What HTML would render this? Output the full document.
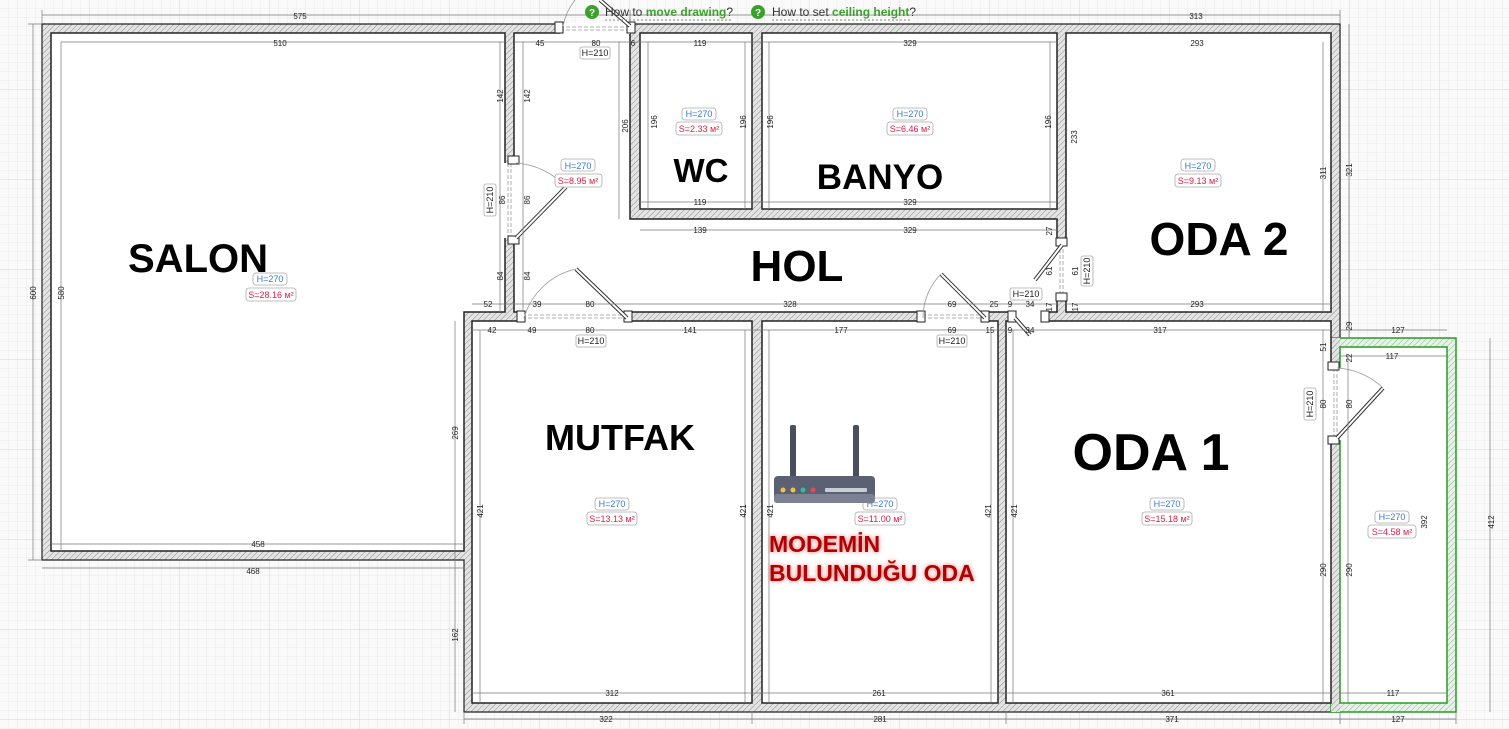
<!DOCTYPE html>
<html><head><meta charset="utf-8"><style>
html,body{margin:0;padding:0;background:#fafafa;}
svg{display:block;font-family:"Liberation Sans",sans-serif;}
.d{font-size:8px;fill:#222;text-anchor:middle;}
.dl{stroke:#777;stroke-width:0.7;fill:none}
.big{font-weight:bold;fill:#000;text-anchor:middle}
.hb{fill:#fff;stroke:#aaa;stroke-width:0.8}
.h{font-size:9px;fill:#3a7bd5;text-anchor:middle}
.s{font-size:9px;fill:#e0204a;text-anchor:middle}
.k{font-size:9px;fill:#222;text-anchor:middle}
</style></head><body>
<svg width="1509" height="729" viewBox="0 0 1509 729">
<defs>
<pattern id="g1" width="9" height="9" patternUnits="userSpaceOnUse"><path d="M9 0V9M0 9H9" stroke="#ececec" stroke-width="1" fill="none"/></pattern>
<pattern id="g2" width="90" height="90" patternUnits="userSpaceOnUse"><path d="M90 0V90M0 90H90" stroke="#dcdcdc" stroke-width="1.2" fill="none"/></pattern>
<pattern id="hat" width="4" height="4" patternUnits="userSpaceOnUse" patternTransform="rotate(45)"><rect width="4" height="4" fill="#e4e4e4"/><line x1="0" y1="0" x2="0" y2="4" stroke="#8a8a8a" stroke-width="1"/></pattern>
<pattern id="hatg" width="4" height="4" patternUnits="userSpaceOnUse" patternTransform="rotate(45)"><rect width="4" height="4" fill="#e8f2e8"/><line x1="0" y1="0" x2="0" y2="4" stroke="#7fbf7f" stroke-width="1"/></pattern>
<filter id="glow"><feGaussianBlur stdDeviation="2.5"/></filter>
</defs>
<rect width="1509" height="729" fill="#fafafa"/>
<rect width="1509" height="729" fill="url(#g1)"/>
<rect x="-8" y="-28" width="1530" height="770" fill="url(#g2)"/>

<polygon points="42,24 1340,24 1340,712 464,712 464,560 42,560" fill="url(#hat)" stroke="#222" stroke-width="1.2"/>
<rect x="1331" y="338" width="125" height="374" fill="url(#hatg)" stroke="#2a9a2a" stroke-width="1.5"/>
<rect x="1331" y="338" width="9" height="374" fill="url(#hat)"/>

<g fill="#fff" stroke="#222" stroke-width="1.5">
<polygon points="51,33 505,33 505,312 464,312 464,551 51,551"/>
<polygon points="514,33 630,33 630,219 1057,219 1057,312 514,312"/>
<rect x="640" y="33" width="112" height="176"/>
<rect x="762" y="33" width="295" height="176"/>
<rect x="1066" y="33" width="265" height="279"/>
<rect x="472" y="321" width="280" height="382"/>
<rect x="762" y="321" width="236" height="382"/>
<rect x="1006" y="321" width="325" height="382"/>
<rect x="1340" y="347" width="107" height="356" stroke="#2a9a2a"/>
</g>

<g fill="#fff" stroke="none">
<rect x="560" y="23" width="70" height="11"/>
<rect x="504" y="163" width="11" height="75"/>
<rect x="522" y="311" width="105" height="11"/>
<rect x="922" y="311" width="62" height="11"/>
<rect x="1012" y="311" width="32" height="11"/>
<rect x="1056" y="243" width="11" height="53"/>
<rect x="1330" y="368" width="11" height="72"/>
</g>
<g stroke="#999" stroke-width="0.8" stroke-dasharray="4,2" fill="none">
<path d="M560 27H630M560 30H630"/>
<path d="M508 163V238M511 163V238"/>
<path d="M522 315H627M522 318H627"/>
<path d="M922 315H984M922 318H984"/>
<path d="M1060 243V296M1063 243V296"/>
<path d="M1334 368V440M1337 368V440"/>
</g>
<g fill="#fff" stroke="#222" stroke-width="1">
<rect x="555" y="22" width="8" height="11"/><rect x="627" y="22" width="8" height="11"/>
<rect x="508" y="156" width="11" height="8"/><rect x="508" y="236" width="11" height="8"/>
<rect x="517" y="311" width="8" height="11"/><rect x="624" y="311" width="8" height="11"/>
<rect x="917" y="311" width="8" height="11"/><rect x="981" y="311" width="8" height="11"/>
<rect x="1008" y="311" width="8" height="11"/><rect x="1041" y="311" width="8" height="11"/>
<rect x="1056" y="238" width="11" height="8"/><rect x="1056" y="293" width="11" height="8"/>
<rect x="1328" y="362" width="11" height="8"/><rect x="1328" y="436" width="11" height="8"/>
</g>
<g stroke="#333" stroke-width="4" fill="none"><path d="M516 238L566 187M627 318L576 269M985 318L941 274M1062 245L1035 280M1337 438L1383 388M630 26L600 0M1015 318L1030 335"/></g>
<g stroke="#fff" stroke-width="2" fill="none"><path d="M516 238L566 187M627 318L576 269M985 318L941 274M1062 245L1035 280M1337 438L1383 388M630 26L600 0M1015 318L1030 335"/></g>
<g stroke="#999" stroke-width="0.8" fill="none">
<path d="M516 163A75 75 0 0 1 566 187"/>
<path d="M524 318A70 70 0 0 1 576 269"/>
<path d="M923 318A62 62 0 0 1 941 274"/>
<path d="M1337 368A72 72 0 0 1 1383 388"/>
<path d="M563 26A60 60 0 0 1 575 0"/>
</g>

<g class="dl">
<path d="M42 15H1340M42 10V24M1340 10V24M630 10V24"/>
<path d="M33 24V560M28 24H42M28 560H42"/>
<path d="M464 719H1456M464 712V724M752 712V724M1006 712V724M1340 712V724M1456 712V724"/>
<path d="M1490 338V712M1349 24V338"/>
<path d="M42 568H464M455 321V712"/>
<path d="M514 42H1057M640 230H1057M472 304H1057M472 330H1331M1066 304H1331M1340 330H1447M1340 356H1447"/>
<path d="M61 42H505M61 42V551M500 42V312M523 42V312M619 42V219M648 42V209M745 42V209M769 42V209M1050 42V209M1323 42V312"/>
<path d="M480 330V703M745 330V703M769 330V703M991 330V703M1013 330V703M1323 330V703M1348 356V703M51 544H464M472 693H1331M1340 693H1447M640 202H1057"/>
</g>

<g class="d">
<text x="300" y="19">575</text><text x="1196" y="19">313</text>
<text x="280" y="46">510</text><text x="540" y="46">45</text><text x="596" y="46">80</text><text x="633" y="46">6</text>
<text x="700" y="46">119</text><text x="910" y="46">329</text><text x="1197" y="46">293</text>
<text x="700" y="205">119</text><text x="910" y="205">329</text>
<text x="700" y="233">139</text><text x="910" y="233">329</text>
<text x="488" y="307">52</text><text x="537" y="307">39</text><text x="590" y="307">80</text><text x="790" y="307">328</text>
<text x="952" y="307">69</text><text x="994" y="307">25</text><text x="1010" y="307">9</text><text x="1030" y="307">34</text><text x="1197" y="307">293</text>
<text x="492" y="333">42</text><text x="532" y="333">49</text><text x="590" y="333">80</text><text x="690" y="333">141</text>
<text x="841" y="333">177</text><text x="952" y="333">69</text><text x="990" y="333">15</text><text x="1010" y="333">9</text><text x="1030" y="333">34</text><text x="1160" y="333">317</text>
<text x="1398" y="333">127</text><text x="1392" y="359">117</text>
<text x="258" y="547">458</text><text x="253" y="574">468</text>
<text x="612" y="696">312</text><text x="879" y="696">261</text><text x="1168" y="696">361</text><text x="1393" y="696">117</text>
<text x="606" y="722">322</text><text x="880" y="722">281</text><text x="1172" y="722">371</text><text x="1398" y="722">127</text>
</g>
<g class="d">
<text transform="translate(36,293) rotate(-90)">600</text>
<text transform="translate(64,293) rotate(-90)">580</text>
<text transform="translate(503,96) rotate(-90)">142</text><text transform="translate(530,96) rotate(-90)">142</text>
<text transform="translate(505,200) rotate(-90)">86</text><text transform="translate(530,200) rotate(-90)">86</text>
<text transform="translate(503,276) rotate(-90)">84</text><text transform="translate(530,276) rotate(-90)">84</text>
<text transform="translate(628,126) rotate(-90)">206</text>
<text transform="translate(657,122) rotate(-90)">196</text><text transform="translate(746,122) rotate(-90)">196</text>
<text transform="translate(773,122) rotate(-90)">196</text><text transform="translate(1051,122) rotate(-90)">196</text>
<text transform="translate(1077,137) rotate(-90)">233</text><text transform="translate(1326,173) rotate(-90)">311</text>
<text transform="translate(1352,170) rotate(-90)">321</text>
<text transform="translate(1052,231) rotate(-90)">27</text>
<text transform="translate(1052,271) rotate(-90)">61</text><text transform="translate(1078,271) rotate(-90)">61</text>
<text transform="translate(1052,307) rotate(-90)">17</text><text transform="translate(1078,307) rotate(-90)">17</text>
<text transform="translate(1352,326) rotate(-90)">29</text>
<text transform="translate(1326,347) rotate(-90)">51</text><text transform="translate(1352,358) rotate(-90)">22</text>
<text transform="translate(1326,404) rotate(-90)">80</text><text transform="translate(1352,404) rotate(-90)">80</text>
<text transform="translate(458,433) rotate(-90)">269</text><text transform="translate(458,635) rotate(-90)">162</text>
<text transform="translate(483,511) rotate(-90)">421</text><text transform="translate(746,511) rotate(-90)">421</text>
<text transform="translate(773,511) rotate(-90)">421</text><text transform="translate(991,511) rotate(-90)">421</text>
<text transform="translate(1017,511) rotate(-90)">421</text>
<text transform="translate(1326,570) rotate(-90)">290</text><text transform="translate(1352,570) rotate(-90)">290</text>
<text transform="translate(1494,522) rotate(-90)">412</text><text transform="translate(1427,522) rotate(-90)">392</text>
</g>

<g>
<rect class="hb" x="580" y="47" width="30" height="12" rx="2"/><text class="k" x="595" y="56">H=210</text>
<rect class="hb" x="484" y="184" width="12" height="32" rx="2"/><text class="k" transform="translate(493,200) rotate(-90)">H=210</text>
<rect class="hb" x="576" y="335" width="30" height="12" rx="2"/><text class="k" x="591" y="344">H=210</text>
<rect class="hb" x="937" y="335" width="30" height="12" rx="2"/><text class="k" x="952" y="344">H=210</text>
<rect class="hb" x="1010" y="288" width="32" height="12" rx="2"/><text class="k" x="1026" y="297">H=210</text>
<rect class="hb" x="1081" y="256" width="12" height="30" rx="2"/><text class="k" transform="translate(1090,271) rotate(-90)">H=210</text>
<rect class="hb" x="1304" y="388" width="12" height="32" rx="2"/><text class="k" transform="translate(1313,404) rotate(-90)">H=210</text>
</g>
<g>
<rect class="hb" x="253" y="273" width="34" height="12" rx="3"/><text class="h" x="270" y="282">H=270</text>
<rect class="hb" x="246" y="288" width="50" height="13" rx="3"/><text class="s" x="271" y="298">S=28.16 м²</text>
<rect class="hb" x="561" y="159" width="34" height="12" rx="3"/><text class="h" x="578" y="169">H=270</text>
<rect class="hb" x="555" y="174" width="47" height="13" rx="3"/><text class="s" x="578" y="184">S=8.95 м²</text>
<rect class="hb" x="682" y="108" width="34" height="12" rx="3"/><text class="h" x="699" y="117">H=270</text>
<rect class="hb" x="676" y="122" width="46" height="13" rx="3"/><text class="s" x="699" y="132">S=2.33 м²</text>
<rect class="hb" x="893" y="108" width="34" height="12" rx="3"/><text class="h" x="910" y="117">H=270</text>
<rect class="hb" x="887" y="122" width="46" height="13" rx="3"/><text class="s" x="910" y="132">S=6.46 м²</text>
<rect class="hb" x="1181" y="159" width="34" height="12" rx="3"/><text class="h" x="1198" y="169">H=270</text>
<rect class="hb" x="1175" y="174" width="46" height="13" rx="3"/><text class="s" x="1198" y="184">S=9.13 м²</text>
<rect class="hb" x="595" y="498" width="34" height="12" rx="3"/><text class="h" x="612" y="507">H=270</text>
<rect class="hb" x="587" y="512" width="50" height="13" rx="3"/><text class="s" x="612" y="522">S=13.13 м²</text>
<rect class="hb" x="863" y="498" width="34" height="12" rx="3"/><text class="h" x="880" y="507">H=270</text>
<rect class="hb" x="855" y="512" width="50" height="13" rx="3"/><text class="s" x="880" y="522">S=11.00 м²</text>
<rect class="hb" x="1150" y="498" width="34" height="12" rx="3"/><text class="h" x="1167" y="507">H=270</text>
<rect class="hb" x="1142" y="512" width="50" height="13" rx="3"/><text class="s" x="1167" y="522">S=15.18 м²</text>
<rect class="hb" x="1375" y="511" width="34" height="12" rx="3"/><text class="h" x="1392" y="520">H=270</text>
<rect class="hb" x="1368" y="525" width="48" height="13" rx="3"/><text class="s" x="1392" y="535">S=4.58 м²</text>
</g>

<text class="big" x="198" y="272" font-size="40">SALON</text>
<text class="big" x="797" y="281" font-size="44">HOL</text>
<text class="big" x="701" y="182" font-size="33">WC</text>
<text class="big" x="880" y="189" font-size="35">BANYO</text>
<text class="big" x="1219" y="255" font-size="46">ODA 2</text>
<text class="big" x="620" y="450" font-size="36">MUTFAK</text>
<text class="big" x="1151" y="470" font-size="52">ODA 1</text>

<rect x="790" y="425" width="6" height="55" rx="2" fill="#4a4f60"/>
<rect x="853" y="425" width="6" height="55" rx="2" fill="#4a4f60"/>
<rect x="774" y="476" width="101" height="27" rx="4" fill="#5b6072"/>
<rect x="774" y="494" width="101" height="9" rx="3" fill="#7b8092"/>
<circle cx="783" cy="490" r="2.5" fill="#f4c04a"/><circle cx="793" cy="490" r="2.5" fill="#f4c04a"/>
<circle cx="803" cy="490" r="2.5" fill="#2bbf9a"/><circle cx="813" cy="490" r="2.5" fill="#e8475b"/>
<rect x="825" y="488" width="42" height="4" rx="1" fill="#c9cbd6"/>
<g font-weight="bold" font-size="23">
<g fill="#e05050" filter="url(#glow)" opacity="0.8"><text x="769" y="552">MODEMİN</text><text x="769" y="581">BULUNDUĞU ODA</text></g>
<g fill="#b00000"><text x="769" y="552">MODEMİN</text><text x="769" y="581">BULUNDUĞU ODA</text></g>
</g>

<g font-size="12">
<circle cx="592" cy="12" r="7" fill="#3aa12a"/><text x="592" y="16" fill="#fff" font-size="10" font-weight="bold" text-anchor="middle">?</text>
<text x="605" y="16" fill="#333">How to <tspan fill="#3aa12a" font-weight="bold">move drawing</tspan>?</text>
<path d="M605 20H731" stroke="#888" stroke-dasharray="2,2"/>
<circle cx="758" cy="12" r="7" fill="#3aa12a"/><text x="758" y="16" fill="#fff" font-size="10" font-weight="bold" text-anchor="middle">?</text>
<text x="772" y="16" fill="#333">How to set <tspan fill="#3aa12a" font-weight="bold">ceiling height</tspan>?</text>
<path d="M772 20H912" stroke="#888" stroke-dasharray="2,2"/>
</g>
</svg>
</body></html>
